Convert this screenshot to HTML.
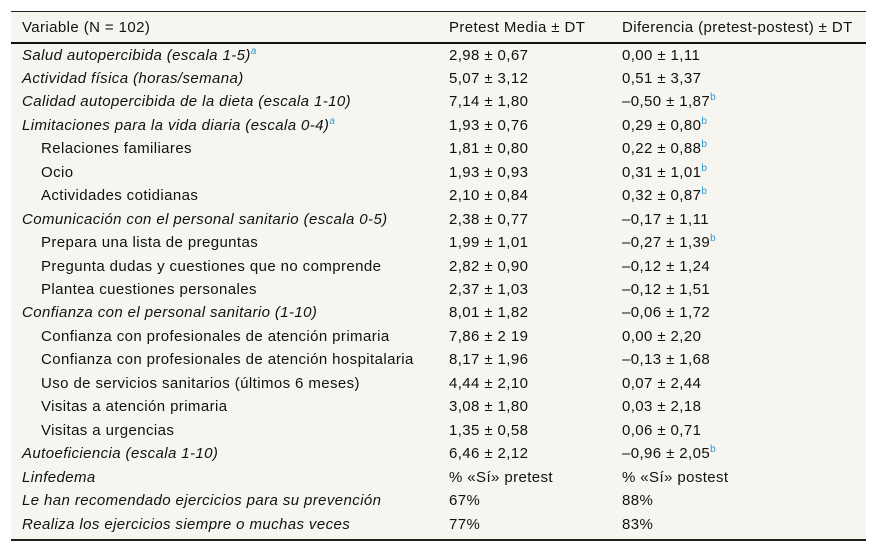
<!DOCTYPE html>
<html><head><meta charset="utf-8"><style>
body{margin:0;width:878px;height:553px;background:#fff;font-family:"Liberation Sans",sans-serif;font-size:15px;letter-spacing:0.4px;color:#111;position:relative;overflow:hidden}
#tbl{position:absolute;left:11px;top:11px;width:855px;height:530px;background:#f7f5f0;border-top:1px solid #222;border-bottom:2px solid #222;box-sizing:border-box}
#hdr{position:absolute;left:0;top:0;width:855px;height:32px;border-bottom:2px solid #111;box-sizing:border-box}
.c{position:absolute;white-space:nowrap;line-height:16px}
.i{font-style:italic}
sup{color:#2a9ad8;font-size:10px;line-height:0;vertical-align:6px;letter-spacing:0}
</style></head><body>
<div id="tbl">
<div id="hdr">
<div class="c" style="left:11px;top:8px">Variable (N = 102)</div>
<div class="c" style="left:438px;top:8px">Pretest Media ± DT</div>
<div class="c" style="left:611px;top:8px">Diferencia (pretest-postest) ± DT</div>
</div>
<div id="body"></div>
</div>
<script>
const rows=[
["Salud autopercibida (escala 1-5)","a",1,"2,98 ± 0,67","0,00 ± 1,11",""],
["Actividad física (horas/semana)","",1,"5,07 ± 3,12","0,51 ± 3,37",""],
["Calidad autopercibida de la dieta (escala 1-10)","",1,"7,14 ± 1,80","–0,50 ± 1,87","b"],
["Limitaciones para la vida diaria (escala 0-4)","a",1,"1,93 ± 0,76","0,29 ± 0,80","b"],
["Relaciones familiares","",0,"1,81 ± 0,80","0,22 ± 0,88","b"],
["Ocio","",0,"1,93 ± 0,93","0,31 ± 1,01","b"],
["Actividades cotidianas","",0,"2,10 ± 0,84","0,32 ± 0,87","b"],
["Comunicación con el personal sanitario (escala 0-5)","",1,"2,38 ± 0,77","–0,17 ± 1,11",""],
["Prepara una lista de preguntas","",0,"1,99 ± 1,01","–0,27 ± 1,39","b"],
["Pregunta dudas y cuestiones que no comprende","",0,"2,82 ± 0,90","–0,12 ± 1,24",""],
["Plantea cuestiones personales","",0,"2,37 ± 1,03","–0,12 ± 1,51",""],
["Confianza con el personal sanitario (1-10)","",1,"8,01 ± 1,82","–0,06 ± 1,72",""],
["Confianza con profesionales de atención primaria","",0,"7,86 ± 2 19","0,00 ± 2,20",""],
["Confianza con profesionales de atención hospitalaria","",0,"8,17 ± 1,96","–0,13 ± 1,68",""],
["Uso de servicios sanitarios (últimos 6 meses)","",0,"4,44 ± 2,10","0,07 ± 2,44",""],
["Visitas a atención primaria","",0,"3,08 ± 1,80","0,03 ± 2,18",""],
["Visitas a urgencias","",0,"1,35 ± 0,58","0,06 ± 0,71",""],
["Autoeficiencia (escala 1-10)","",1,"6,46 ± 2,12","–0,96 ± 2,05","b"],
["Linfedema","",1,"% «Sí» pretest","% «Sí» postest",""],
["Le han recomendado ejercicios para su prevención","",1,"67%","88%",""],
["Realiza los ejercicios siempre o muchas veces","",1,"77%","83%",""]
];
const body=document.getElementById('body');
rows.forEach((r,k)=>{
  const y=35.5+k*23.45;
  const a=document.createElement('div');
  a.className='c'+(r[2]?' i':'');
  a.style.left=(r[2]?11:30)+'px';a.style.top=y+'px';
  a.innerHTML=r[0]+(r[1]?'<sup>'+r[1]+'</sup>':'');
  
  
  body.appendChild(a);
  const b=document.createElement('div');
  b.className='c';b.style.left='438px';b.style.top=y+'px';b.textContent=r[3];
  
  
  body.appendChild(b);
  const c=document.createElement('div');
  c.className='c';c.style.left='611px';c.style.top=y+'px';
  c.innerHTML=r[4]+(r[5]?'<sup>'+r[5]+'</sup>':'');
  
  
  body.appendChild(c);
});
</script>
</body></html>
